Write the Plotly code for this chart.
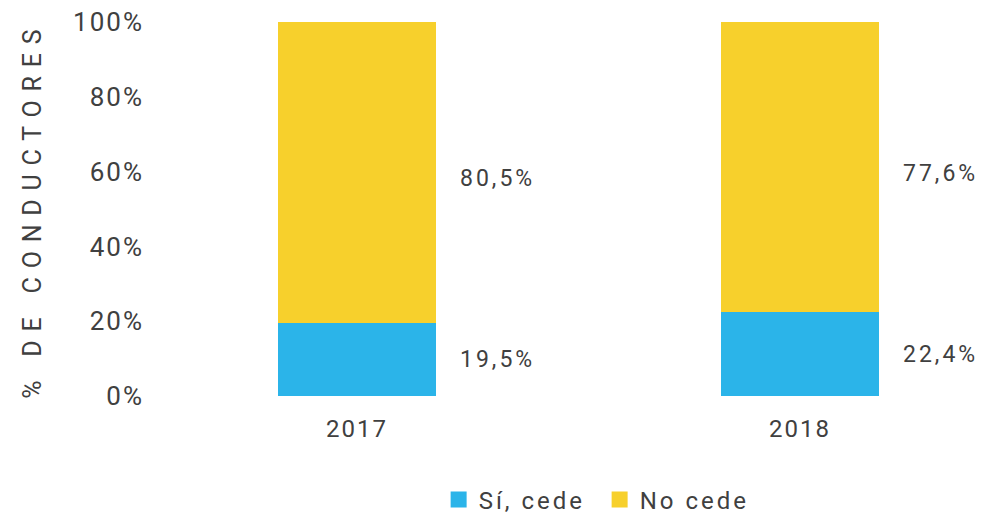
import plotly.graph_objects as go

years = ["2017", "2018"]
si_cede = [19.5, 22.4]
no_cede = [80.5, 77.6]
si_labels = ["19,5%", "22,4%"]
no_labels = ["80,5%", "77,6%"]
y_ticks = [0, 20, 40, 60, 80, 100]
y_tick_labels = ["0%", "20%", "40%", "60%", "80%", "100%"]
series_names = ["Sí, cede", "No cede"]
y_title = "% DE CONDUCTORES"

BLUE = "#2BB4E9"
YELLOW = "#F7D02C"
TXT = "#404040"
FONT = "Roboto, Arial, sans-serif"


def ls(t, px=3):
    return f'<span style="letter-spacing:{px}px">{t}</span>'


xpos = list(range(len(years)))
bw = 0.357

fig = go.Figure()
fig.add_trace(go.Bar(x=xpos, y=si_cede, width=bw, name=series_names[0], showlegend=False,
                     marker=dict(color=BLUE, line=dict(width=0))))
fig.add_trace(go.Bar(x=xpos, y=no_cede, width=bw, name=series_names[1], showlegend=False,
                     marker=dict(color=YELLOW, line=dict(width=0))))
# legend entries with larger square symbols
for nm, col in zip(series_names, [BLUE, YELLOW]):
    fig.add_trace(go.Scatter(x=[None], y=[None], mode="markers", name=ls(nm, 3),
                             marker=dict(symbol="square", size=16, color=col, line=dict(width=0)),
                             hoverinfo="skip"))

ann = []
for i in xpos:
    ann.append(dict(x=i + 0.228, y=si_cede[i] / 2, text=ls(si_labels[i], 3),
                    xref="x", yref="y", xanchor="left", yanchor="middle",
                    showarrow=False, font=dict(size=23, color=TXT, family=FONT)))
    ann.append(dict(x=i + 0.228, y=si_cede[i] + no_cede[i] / 2, text=ls(no_labels[i], 3),
                    xref="x", yref="y", xanchor="left", yanchor="middle", yshift=-6,
                    showarrow=False, font=dict(size=23, color=TXT, family=FONT)))
ann.append(dict(x=-0.1418, y=0.498, xref="paper", yref="paper", textangle=-90,
                text=ls(y_title, 8.8), showarrow=False,
                xanchor="center", yanchor="middle",
                font=dict(size=25, color=TXT, family=FONT)))

fig.update_layout(
    width=975, height=509,
    barmode="stack",
    plot_bgcolor="white", paper_bgcolor="white",
    margin=dict(l=142, r=8, t=14, b=121, autoexpand=False),
    font=dict(family=FONT, color=TXT, size=23),
    xaxis=dict(range=[-0.467, 1.395], tickvals=xpos, ticktext=[ls(y, 2) for y in years],
               showgrid=False, zeroline=False, showline=False, ticks="",
               ticklabelstandoff=16,
               tickfont=dict(size=24, color=TXT)),
    yaxis=dict(range=[0, 100], tickvals=y_ticks,
               ticktext=[ls(t, 2) for t in y_tick_labels],
               showgrid=False, zeroline=False, showline=False, ticks="",
               ticklabelstandoff=5, ticklabeloverflow="allow",
               tickfont=dict(size=26, color=TXT)),
    legend=dict(orientation="h", x=0.545, xanchor="center", y=-0.278, yanchor="middle",
                font=dict(size=24, color=TXT), traceorder="normal",
                itemsizing="trace", entrywidth=116, entrywidthmode="pixels"),
    showlegend=True,
    annotations=ann,
)

fig.write_html("out.html")
